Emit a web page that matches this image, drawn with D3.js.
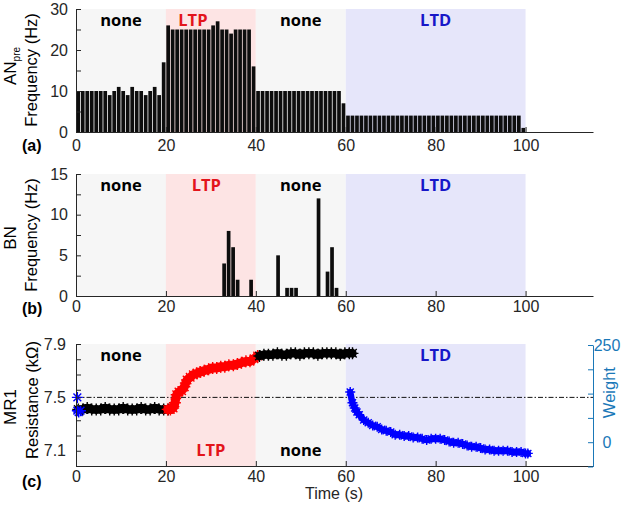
<!DOCTYPE html>
<html>
<head>
<meta charset="utf-8">
<script src="https://cdn.jsdelivr.net/npm/d3@7"></script>
<style>
  body { margin: 0; background: #fff; }
</style>
</head>
<body>
<svg id="chart" width="621" height="505"></svg>
<script>
// ---- data ----
const timeTicks = [0, 20, 40, 60, 80, 100];
const phaseNames = ["none", "LTP", "none", "LTD"];
const phaseStart = [0, 20, 40, 60];
const phaseEnd = [20, 40, 60, 100];

// (a) AN_pre firing rate, 1 s bins from 0 to 100 s
const anPreFreq = [
  10, 10, 10, 10, 10, 10, 10, 9, 10, 11,
  10, 9, 11, 10, 10, 9, 10, 11, 9, 17,
  26, 25, 25, 25, 25, 25, 25, 25, 25, 25,
  26, 27, 25, 25, 24, 25, 25, 25, 25, 16,
  10, 10, 10, 10, 10, 10, 10, 10, 10, 10,
  10, 10, 10, 10, 10, 10, 10, 10, 10, 7,
  4, 4, 4, 4, 4, 4, 4, 4, 4, 4,
  4, 4, 4, 4, 4, 4, 4, 4, 4, 4,
  4, 4, 4, 4, 4, 4, 4, 4, 4, 4,
  4, 4, 4, 4, 4, 4, 4, 4, 4, 1
];

// (b) BN firing rate (only non-zero bins)
const bnTime = [33, 34, 35, 36, 39, 45, 47, 48, 49, 54, 56, 57, 58];
const bnFreq = [4, 8, 6, 2, 2, 5, 1, 1, 1, 12, 3, 6, 1];

// (c) MR1 resistance (kOhm)
const mr1InitTime = [0.3, 0.3, 0.6, 1.0];
const mr1InitVal = [7.50, 7.40, 7.39, 7.40];

const mr1TimeA = [0.5, 1.5, 2.5, 3.5, 4.5, 5.5, 6.5, 7.5, 8.5, 9.5, 10.5,
  11.5, 12.5, 13.5, 14.5, 15.5, 16.5, 17.5, 18.5, 19.5, 20.5];
const mr1ValA = [7.41, 7.41, 7.42, 7.41, 7.41, 7.41, 7.42, 7.41, 7.41, 7.41, 7.42,
  7.41, 7.41, 7.41, 7.42, 7.41, 7.41, 7.42, 7.41, 7.41, 7.41];

const mr1TimeLTP = [20.4, 21.0, 21.6, 22.0, 22.4, 22.9, 23.5, 24.1, 24.7, 25.4, 26.1,
  26.9, 27.6, 28.5, 29.5, 30.4, 31.3, 32.2, 33.1, 34.0, 35.0, 35.9, 36.8, 37.8,
  38.7, 39.6, 40.4];
const mr1ValLTP = [7.41, 7.41, 7.42, 7.46, 7.52, 7.54, 7.55, 7.58, 7.63, 7.65, 7.67,
  7.68, 7.69, 7.70, 7.71, 7.72, 7.72, 7.73, 7.73, 7.74, 7.74, 7.75, 7.76, 7.77,
  7.77, 7.79, 7.81];

const mr1TimeB = [40.8, 41.8, 42.8, 43.8, 44.8, 45.8, 46.8, 47.8, 48.8, 49.8, 50.8,
  51.8, 52.8, 53.8, 54.8, 55.8, 56.8, 57.8, 58.8, 59.8, 60.8, 61.5];
const mr1ValB = [7.81, 7.82, 7.82, 7.82, 7.83, 7.82, 7.82, 7.83, 7.83, 7.82, 7.83,
  7.83, 7.83, 7.82, 7.83, 7.83, 7.83, 7.83, 7.82, 7.83, 7.83, 7.83];

const mr1TimeLTD = [61.0, 61.5, 62.0, 62.5, 63, 64, 65, 66, 67, 68, 69, 70, 71, 72,
  73, 74, 75, 76, 77, 78, 79, 80, 81, 82, 83, 84, 85, 86, 87, 88, 89, 90, 91, 92,
  93, 94, 95, 96, 97, 98, 99, 100, 100.5];
const mr1ValLTD = [7.54, 7.46, 7.42, 7.39, 7.37, 7.33, 7.31, 7.29, 7.28, 7.26, 7.25,
  7.24, 7.22, 7.22, 7.21, 7.21, 7.20, 7.20, 7.19, 7.18, 7.19, 7.19, 7.19, 7.18,
  7.17, 7.16, 7.16, 7.15, 7.14, 7.13, 7.13, 7.12, 7.11, 7.11, 7.10, 7.10, 7.10,
  7.10, 7.09, 7.09, 7.09, 7.08, 7.08];

const resThreshold = 7.5;
const resTickLabels = [7.9, 7.5, 7.1];
const weightTicks = [-62.5, 0, 62.5, 125, 187.5, 250];
const weightTickLabels = [0, 250];

// ---- styles ----
const FONT = '"Liberation Sans", Arial, Helvetica, sans-serif';
const BOLD = '"Open Sans", "DejaVu Sans", sans-serif';
const axisColor = "#262626";
const weightColor = "#1a78b8";
const phaseFill = { none: "#f6f6f6", LTP: "#fde4e4", LTD: "#e6e6fa" };
const phaseInk = { none: "#000", LTP: "#e3141b", LTD: "#1717c8" };

const svg = d3.select("#chart");
const x = d3.scaleLinear().domain([0, 115]).range([76, 593]);

function phases(g, y, labelT, labelY) {
  const [y0, y1] = y.range();
  g.append("g").selectAll("rect")
    .data(phaseNames)
    .join("rect")
    .attr("x", (d, i) => x(phaseStart[i]))
    .attr("width", (d, i) => x(phaseEnd[i]) - x(phaseStart[i]))
    .attr("y", y1)
    .attr("height", y0 - y1)
    .attr("fill", d => phaseFill[d]);

  g.append("g").selectAll("text")
    .data(phaseNames)
    .join("text")
    .attr("x", (d, i) => x(labelT[i]))
    .attr("y", (d, i) => labelY[i])
    .attr("text-anchor", "middle")
    .attr("font-family", BOLD)
    .attr("font-weight", "bold")
    .attr("font-size", 16.5)
    .attr("fill", d => phaseInk[d])
    .text(d => d);
}

function styleAxis(sel, color) {
  sel.select(".domain").attr("stroke", color);
  sel.selectAll(".tick line").attr("stroke", color);
  sel.selectAll(".tick text")
    .attr("font-family", FONT)
    .attr("font-size", 16)
    .attr("fill", color);
}

function bottomAxis(g, yPos, pad) {
  g.append("g")
    .attr("transform", `translate(0,${yPos})`)
    .call(d3.axisBottom(x).tickValues(timeTicks).tickSizeInner(-5).tickSizeOuter(0).tickPadding(pad))
    .call(s => styleAxis(s, axisColor));
}

function leftAxis(g, y, ticks, fmt, pad) {
  g.append("g")
    .attr("transform", `translate(${x(0)},0)`)
    .call(d3.axisLeft(y).tickValues(ticks).tickFormat(fmt).tickSizeInner(-5).tickSizeOuter(0).tickPadding(pad))
    .call(s => styleAxis(s, axisColor));
}

function yLabel(g, xPos, yPos, size, parts) {
  const t = g.append("text")
    .attr("transform", `translate(${xPos},${yPos}) rotate(-90)`)
    .attr("text-anchor", "middle")
    .attr("font-family", FONT)
    .attr("font-size", size)
    .attr("fill", "#000");
  parts.forEach(p => {
    const ts = t.append("tspan").text(p.text);
    if (p.sub) ts.attr("font-size", 10).attr("dy", 4);
  });
  return t;
}

function panelTag(g, txt, yPos) {
  g.append("text")
    .attr("x", 22).attr("y", yPos)
    .attr("font-family", FONT)
    .attr("font-weight", "bold")
    .attr("font-size", 16)
    .attr("fill", "#000")
    .text(txt);
}

// ---------- (a) ----------
const ga = svg.append("g");
const ya = d3.scaleLinear().domain([0, 30]).range([132, 9]);
phases(ga, ya, [10, 26, 50, 80], [26, 26, 26, 26]);

ga.append("g").selectAll("rect")
  .data(anPreFreq)
  .join("rect")
  .attr("x", (d, i) => x(i) + 0.4)
  .attr("width", (d, i) => x(i + 1) - x(i) - 0.8)
  .attr("y", d => ya(d))
  .attr("height", d => ya(0) - ya(d))
  .attr("fill", "#0d0d0d");

bottomAxis(ga, ya(0), 8);
leftAxis(ga, ya, d3.range(0, 31, 5), d => (d % 10 === 0 ? d : ""), 8);
yLabel(ga, 16, 66, 17, [{ text: "AN" }, { text: "pre", sub: true }]);
yLabel(ga, 37, 70, 16.5, [{ text: "Frequency (Hz)" }]);
panelTag(ga, "(a)", 151);

// ---------- (b) ----------
const gb = svg.append("g");
const yb = d3.scaleLinear().domain([0, 15]).range([296, 174]);
phases(gb, yb, [10, 29, 50, 80], [191, 191, 191, 191]);

gb.append("g").selectAll("rect")
  .data(bnTime)
  .join("rect")
  .attr("x", d => x(d - 0.55) + 0.4)
  .attr("width", d => x(d + 0.45) - x(d - 0.55) - 0.8)
  .attr("y", (d, i) => yb(bnFreq[i]))
  .attr("height", (d, i) => yb(0) - yb(bnFreq[i]))
  .attr("fill", "#0d0d0d");

bottomAxis(gb, yb(0), 5);
leftAxis(gb, yb, d3.range(0, 15.1, 2.5), d => (d % 5 === 0 ? d : ""), 8);
yLabel(gb, 16, 238, 17, [{ text: "BN" }]);
yLabel(gb, 37, 235, 16.5, [{ text: "Frequency (Hz)" }]);
panelTag(gb, "(b)", 314);

// ---------- (c) ----------
const gc = svg.append("g");
const resStep = 0.8 / 7;
const yc = d3.scaleLinear().domain([7.9 - 8 * resStep, 7.9]).range([466, 344]);
const yw = d3.scaleLinear().domain([weightTicks[0], 250]).range([466.5, 345]);
phases(gc, yc, [10, 30, 50, 80], [361, 456, 456, 361]);

gc.append("line")
  .attr("x1", x(0)).attr("x2", x(115))
  .attr("y1", yc(resThreshold)).attr("y2", yc(resThreshold))
  .attr("stroke", "#111")
  .attr("stroke-width", 1)
  .attr("stroke-dasharray", "5,2,1.5,2");

function starPath(r) {
  const d = r * 0.707;
  return `M${-r},0L${r},0M0,${-r}L0,${r}M${-d},${-d}L${d},${d}M${-d},${d}L${d},${-d}`;
}

function series(times, vals, color, lineW, starR) {
  const pts = times.map((t, i) => [t, vals[i]]);
  const line = d3.line().x(d => x(d[0])).y(d => yc(d[1])).curve(d3.curveCatmullRom);
  if (lineW > 0) {
    gc.append("path")
      .attr("d", line(pts))
      .attr("fill", "none")
      .attr("stroke", color)
      .attr("stroke-width", lineW)
      .attr("stroke-linecap", "round")
      .attr("stroke-linejoin", "round");
  }
  gc.append("g").selectAll("path")
    .data(pts)
    .join("path")
    .attr("d", starPath(starR))
    .attr("transform", d => `translate(${x(d[0])},${yc(d[1])})`)
    .attr("fill", "none")
    .attr("stroke", color)
    .attr("stroke-width", 1.4);
}

series(mr1TimeA, mr1ValA, "#000", 8.5, 6);
series(mr1TimeLTP, mr1ValLTP, "#ff0000", 9, 6);
series(mr1TimeB, mr1ValB, "#000", 8.5, 6);
series(mr1TimeLTD, mr1ValLTD, "#0000ff", 6.5, 5);
series(mr1InitTime, mr1InitVal, "#0000ff", 0, 5.5);

bottomAxis(gc, 466, 5);
const resTicks = d3.range(0, 9).map(k => 7.9 - k * resStep).concat([resThreshold]);
leftAxis(gc, yc, resTicks,
  d => (resTickLabels.some(v => Math.abs(v - d) < 1e-6) ? d.toFixed(1) : ""), 10);

gc.append("g")
  .attr("transform", `translate(${x(115)},0)`)
  .call(d3.axisRight(yw).tickValues(weightTicks)
    .tickFormat(d => (weightTickLabels.includes(d) ? d : ""))
    .tickSizeInner(-5).tickSizeOuter(0).tickPadding(14))
  .call(s => {
    styleAxis(s, weightColor);
    s.selectAll(".tick text").attr("text-anchor", "middle");
  });

gc.append("text")
  .attr("transform", `translate(615,${yw(125) - 1}) rotate(-90)`)
  .attr("text-anchor", "middle")
  .attr("font-family", FONT)
  .attr("font-size", 16.5)
  .attr("fill", weightColor)
  .text("Weight");

yLabel(gc, 16, 407, 17, [{ text: "MR1" }]);
yLabel(gc, 38, 400, 16.5, [{ text: "Resistance (kΩ)" }]);
panelTag(gc, "(c)", 487);

gc.append("text")
  .attr("x", 334).attr("y", 499)
  .attr("text-anchor", "middle")
  .attr("font-family", FONT)
  .attr("font-size", 16)
  .attr("fill", axisColor)
  .text("Time (s)");
</script>
</body>
</html>
